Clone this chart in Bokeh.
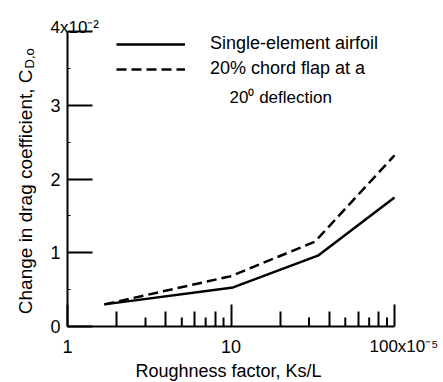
import math
from bokeh.plotting import figure
from bokeh.models import (FixedTicker, Range1d, Legend, LegendItem, Label, LogAxis,
                          LinearAxis)
from bokeh.embed import file_html
from bokeh.resources import INLINE

# Data (roughness factor in units of 1e-5, drag change in units of 1e-2)
single_x = [1.68, 10.3, 34.0, 100.0]
single_y = [0.30, 0.53, 0.96, 1.75]
flap_x = [1.68, 9.9, 32.6, 100.0]
flap_y = [0.30, 0.68, 1.15, 2.32]

x_major = [1, 10, 100]
x_minor_long = [2, 4, 6, 8, 20, 40, 60, 80]
x_minor_short = [3, 5, 7, 9, 30, 50, 70, 90]
x_tick_text = ["1", "10"]
y_major = [0, 1, 2, 3, 4]
y_minor = [0.5, 1.5, 2.5, 3.5]
y_tick_vals = [0, 1, 2, 3]
y_tick_text = ["0", "1", "2", "3"]

FONT = "Liberation Sans"
W, H = 443, 382
# assumed frame edges (window pixels)
FL, FR, FT, FB = 0, W, 0, H
# where the axes sit in window pixels
X0, X1 = 67, 394     # x = 1 and x = 100
Y0, Y4 = 326, 31     # y = 0 and y = 4
decade = (X1 - X0) / 2.0
unit = (Y0 - Y4) / 4.0
xs = 10 ** ((FL - X0) / decade)
xe = 10 ** (2 + (FR - X1) / decade)
ys = -(FB - Y0) / unit
ye = 4 + (Y4 - FT) / unit

p = figure(width=W, height=H, x_axis_type="log",
           x_range=Range1d(xs, xe), y_range=Range1d(ys, ye),
           x_axis_location=None, y_axis_location=None,
           output_backend="svg", toolbar_location=None, min_border=0)
p.outline_line_color = None
p.grid.visible = False
p.background_fill_color = "white"
p.border_fill_color = "white"

empty = "1px"
xa = LogAxis(fixed_location=0, bounds=(1, 100),
             ticker=FixedTicker(ticks=x_major, minor_ticks=x_minor_long),
             major_label_overrides={t: "" for t in x_major},
             major_label_text_font_size=empty, major_label_standoff=0,
             major_tick_in=22, major_tick_out=0, minor_tick_in=15, minor_tick_out=0,
             axis_line_width=2, major_tick_line_width=2, minor_tick_line_width=2)
p.add_layout(xa, "below")
ya = LinearAxis(fixed_location=1, bounds=(0, 4),
                ticker=FixedTicker(ticks=y_major, minor_ticks=y_minor),
                major_label_overrides={t: "" for t in y_major},
                major_label_text_font_size=empty, major_label_standoff=0,
                major_tick_in=25, major_tick_out=0, minor_tick_in=3, minor_tick_out=0,
                axis_line_width=2, major_tick_line_width=2, minor_tick_line_width=1)
p.add_layout(ya, "left")

# shorter alternating minor ticks on the x axis
p.segment(x0=x_minor_short, x1=x_minor_short, y0=[0] * len(x_minor_short),
          y1=[9 / unit] * len(x_minor_short), line_color="black", line_width=2)

r1 = p.line(single_x, single_y, line_color="black", line_width=2.5)
r2 = p.line(flap_x, flap_y, line_color="black", line_width=2.5,
            line_dash="10 5")

legend = Legend(items=[LegendItem(label="Single-element airfoil", renderers=[r1]),
                       LegendItem(label="20% chord flap at a", renderers=[r2])],
                location=(116 - FL, FB - 79), glyph_width=69, glyph_height=20,
                label_height=20, label_standoff=25, spacing=4, padding=0,
                margin=0, border_line_alpha=0, background_fill_alpha=0,
                label_text_font=FONT, label_text_font_size="18px",
                label_text_color="black")
p.add_layout(legend, "center")

def lab(X, Y, text, size, **kw):
    # X, Y: window pixels from top-left; converted to frame-relative screen units
    kw.setdefault("text_baseline", "alphabetic")
    p.add_layout(Label(x=X - FL, y=FB - Y, x_units="screen", y_units="screen",
                       text=text, text_font=FONT, text_font_size=size,
                       text_color="black", **kw))

# tick labels placed on the data scale
for v, t in zip(x_major, x_tick_text):
    p.add_layout(Label(x=v, y=FB - 346, x_units="data", y_units="screen",
                       text=t, text_font=FONT, text_font_size="18px",
                       text_color="black", text_align="center",
                       text_baseline="alphabetic"))
for v, t in zip(y_tick_vals, y_tick_text):
    p.add_layout(Label(x=50 - FL, y=v, x_units="screen", y_units="data",
                       text=t, text_font=FONT, text_font_size="18px",
                       text_color="black", text_align="left",
                       text_baseline="middle"))

lab(229, 97, "20⁰ deflection", "17px", text_align="left")
lab(50, 27, "4x10⁻²", "17px", text_align="left")
lab(369, 346, "100x10⁻⁵", "17px", text_align="left")
lab(228, 370, "Roughness factor, Ks/L", "18px", text_align="center")
# y axis title with subscript
lab(25, 69, "Change in drag coefficient, C", "19px",
    text_align="right", angle=math.pi / 2)
lab(29, 68, "D,o", "13px", text_align="left", angle=math.pi / 2)

open("out.html", "w").write(file_html(p, INLINE))
